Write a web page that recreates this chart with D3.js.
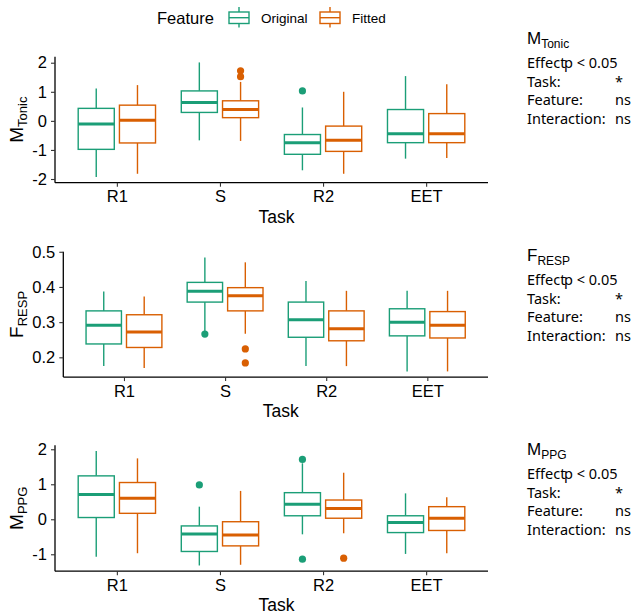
<!DOCTYPE html>
<html>
<head>
<meta charset="utf-8">
<script src="https://cdnjs.cloudflare.com/ajax/libs/d3/7.8.5/d3.min.js"></script>
<style>
  body { margin: 0; background: #fff; }
  svg { display: block; font-family: "Liberation Sans", Arial, sans-serif; }
</style>
</head>
<body>
<svg id="chart" width="637" height="616"></svg>
<script>
// Categories and groups
const tasks = ["R1", "S", "R2", "EET"];
const features = ["Original", "Fitted"];
const featureColors = ["#1B9E77", "#D95F02"];

// Box stats per task: [lower whisker, Q1, median, Q3, upper whisker]
const tonicOriginal = [[-1.93, -0.98, -0.11, 0.43, 1.11], [-0.67, 0.29, 0.63, 1.03, 2.01], [-1.70, -1.15, -0.75, -0.47, 0.46], [-1.30, -0.75, -0.44, 0.39, 1.54]];
const tonicFitted   = [[-1.82, -0.76, 0.02, 0.54, 1.23], [-0.69, 0.11, 0.39, 0.69, 1.34], [-1.82, -1.05, -0.67, -0.18, 1.00], [-1.28, -0.75, -0.44, 0.25, 1.26]];
const tonicOutOriginal = [[], [], [1.03], []];
const tonicOutFitted   = [[], [1.72, 1.52], [], []];

const respOriginal = [[0.175, 0.238, 0.291, 0.332, 0.387], [0.274, 0.357, 0.388, 0.413, 0.484], [0.175, 0.257, 0.307, 0.357, 0.417], [0.160, 0.261, 0.300, 0.338, 0.389]];
const respFitted   = [[0.170, 0.228, 0.272, 0.321, 0.373], [0.267, 0.332, 0.375, 0.398, 0.470], [0.175, 0.247, 0.281, 0.332, 0.389], [0.160, 0.255, 0.291, 0.330, 0.389]];
const respOutOriginal = [[], [0.266], [], []];
const respOutFitted   = [[], [0.224, 0.184], [], []];

const ppgOriginal = [[-1.07, 0.05, 0.71, 1.24, 1.95], [-1.32, -0.92, -0.42, -0.19, 0.36], [-0.43, 0.10, 0.43, 0.76, 1.60], [-0.99, -0.38, -0.09, 0.10, 0.74]];
const ppgFitted   = [[-0.97, 0.17, 0.60, 1.05, 1.74], [-1.30, -0.76, -0.45, -0.07, 0.81], [-0.40, 0.03, 0.31, 0.55, 1.33], [-0.97, -0.32, 0.03, 0.36, 0.63]];
const ppgOutOriginal = [[], [0.98], [1.71, -1.14], []];
const ppgOutFitted   = [[], [], [-1.11], []];

// Tick labels
const tonicTicks = [-2, -1, 0, 1, 2];
const respTicks = [0.2, 0.3, 0.4, 0.5];
const ppgTicks = [-1, 0, 1, 2];

// Annotation table rows
const effectRows = [["Task:", "*"], ["Feature:", "ns"], ["Interaction:", "ns"]];

const svg = d3.select("#chart");

// plain hyphen minus like the original
const intFmt = d => String(d);
const oneDec = d => d.toFixed(1);

// Panel layout
const panels = [
  { name: "M", sub: "Tonic", orig: tonicOriginal, fit: tonicFitted, outO: tonicOutOriginal, outF: tonicOutFitted,
    ticks: tonicTicks, fmt: intFmt, left: 55, top: 56.7, bottom: 182.7, noteY: 44 },
  { name: "F", sub: "RESP", orig: respOriginal, fit: respFitted, outO: respOutOriginal, outF: respOutFitted,
    ticks: respTicks, fmt: oneDec, left: 63.3, top: 251.7, bottom: 377.1, noteY: 261 },
  { name: "M", sub: "PPG", orig: ppgOriginal, fit: ppgFitted, outO: ppgOutOriginal, outF: ppgOutFitted,
    ticks: ppgTicks, fmt: intFmt, left: 55, top: 445.3, bottom: 571.2, noteY: 455 }
];
const right = 488;

panels.forEach(p => {
  const series = [p.orig, p.fit];
  const outs = [p.outO, p.outF];

  // y domain from data with 5% expansion
  const all = series.flat(2).concat(outs.flat(2));
  const [lo, hi] = d3.extent(all);
  const pad = (hi - lo) * 0.05;
  const y = d3.scaleLinear().domain([lo - pad, hi + pad]).range([p.bottom, p.top]);

  const x = d3.scalePoint().domain(tasks).range([p.left, right]).padding(0.6);
  const step = x.step();
  const dodge = d3.scaleBand().domain(features).range([-0.4 * step, 0.4 * step]);
  const boxW = 0.35 * step;

  const g = svg.append("g");

  // Boxes
  series.forEach((data, si) => {
    const col = featureColors[si];
    data.forEach((s, ti) => {
      const cx = x(tasks[ti]) + dodge(features[si]) + dodge.bandwidth() / 2;
      const bg = g.append("g").attr("stroke", col).attr("fill", "none");
      bg.append("line").attr("x1", cx).attr("x2", cx).attr("y1", y(s[3])).attr("y2", y(s[4])).attr("stroke-width", 1.4);
      bg.append("line").attr("x1", cx).attr("x2", cx).attr("y1", y(s[1])).attr("y2", y(s[0])).attr("stroke-width", 1.4);
      bg.append("rect")
        .attr("x", cx - boxW / 2).attr("width", boxW)
        .attr("y", y(s[3])).attr("height", y(s[1]) - y(s[3]))
        .attr("fill", "#fff").attr("stroke-width", 1.4);
      bg.append("line").attr("x1", cx - boxW / 2).attr("x2", cx + boxW / 2)
        .attr("y1", y(s[2])).attr("y2", y(s[2])).attr("stroke-width", 3);
      outs[si][ti].forEach(v => {
        g.append("circle").attr("cx", cx).attr("cy", y(v)).attr("r", 3.6).attr("fill", col);
      });
    });
  });

  // Axes
  const yAxis = d3.axisLeft(y).tickValues(p.ticks).tickFormat(p.fmt).tickSize(4).tickPadding(4);
  const ya = g.append("g").attr("transform", `translate(${p.left},0)`).call(yAxis);
  const xAxis = d3.axisBottom(x).tickSize(4).tickPadding(4);
  const xa = g.append("g").attr("transform", `translate(0,${p.bottom})`).call(xAxis);
  [ya, xa].forEach(a => {
    a.attr("font-size", null).attr("font-family", null);
    a.select(".domain").attr("stroke", "#000").attr("stroke-width", 1.3);
    a.selectAll(".tick line").attr("stroke", "#333").attr("stroke-width", 1.1);
    a.selectAll(".tick text").attr("fill", "#000").style("font-size", "16.5px");
  });
  ya.select(".domain").attr("d", `M0,${p.top}V${p.bottom}`);
  xa.select(".domain").attr("d", `M${p.left},0H${right}`);

  // Axis titles
  g.append("text")
    .attr("x", (p.left + right) / 2 + 5).attr("y", p.bottom + 40)
    .attr("text-anchor", "middle").style("font-size", "17.5px").text("Task");
  const yt = g.append("text")
    .attr("transform", `translate(23,${(p.top + p.bottom) / 2}) rotate(-90)`)
    .attr("text-anchor", "middle").style("font-size", "19px");
  yt.append("tspan").text(p.name);
  yt.append("tspan").attr("dy", 4).style("font-size", "13px").text(p.sub);

  // Right-side annotation
  const nx = 527;
  const nt = g.append("text").attr("x", nx).attr("y", p.noteY).style("font-size", "17px");
  nt.append("tspan").text(p.name);
  nt.append("tspan").attr("dy", 4).style("font-size", "12px").text(p.sub);

  const tg = g.append("g").style("font-family", "'Noto Sans', sans-serif").style("font-size", "14.5px");
  tg.append("text").attr("x", nx).attr("y", p.noteY + 24).text("Effect");
  tg.append("text").attr("x", 564).attr("y", p.noteY + 24).text("p < 0.05");
  effectRows.forEach((r, i) => {
    const ry = p.noteY + 24 + 18.5 * (i + 1);
    tg.append("text").attr("x", nx).attr("y", ry).text(r[0]);
    tg.append("text").attr("x", 615).attr("y", ry).text(r[1]);
  });
});

// Legend
const lg = svg.append("g");
lg.append("text").attr("x", 157).attr("y", 24).style("font-size", "16.5px").text("Feature");
const keyX = d3.scaleOrdinal().domain(features).range([229, 320]);
features.forEach((f, i) => {
  const kx = keyX(f);
  const k = lg.append("g").attr("stroke", featureColors[i]).attr("stroke-width", 1.4).attr("fill", "none");
  k.append("line").attr("x1", kx + 10).attr("x2", kx + 10).attr("y1", 7).attr("y2", 27.5);
  k.append("rect").attr("x", kx).attr("y", 12).attr("width", 20).attr("height", 11.5).attr("fill", "#fff");
  k.append("line").attr("x1", kx).attr("x2", kx + 20).attr("y1", 17.7).attr("y2", 17.7);
  lg.append("text").attr("x", kx + 32).attr("y", 22.5).style("font-size", "13.5px").text(f);
});
</script>
</body>
</html>
